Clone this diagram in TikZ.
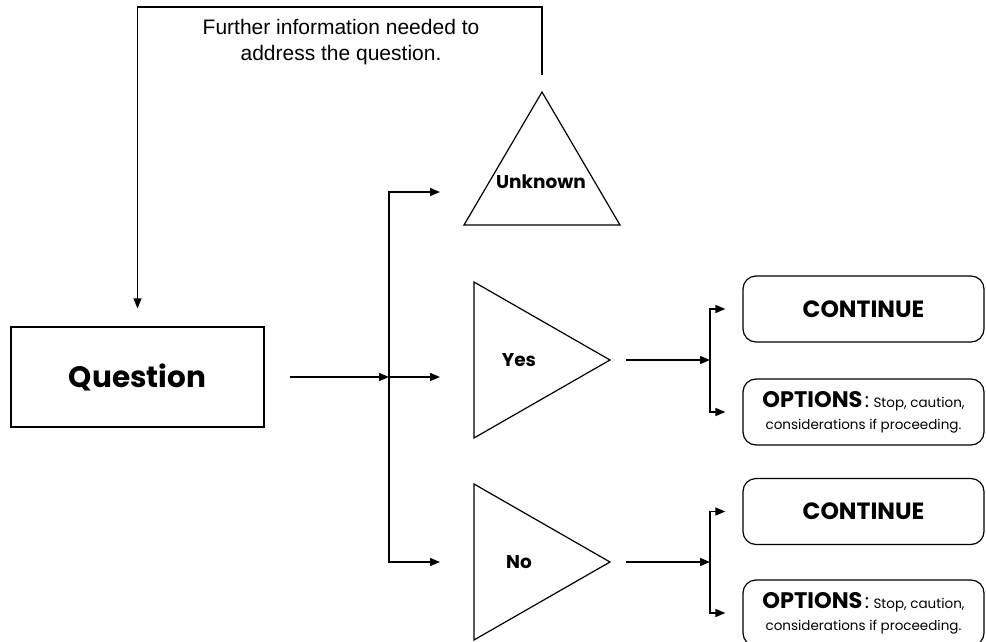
\documentclass[tikz,border=0pt]{standalone}
\usepackage{fontspec}
\setmainfont{Liberation Sans}
\newfontfamily\comicfont{Poppins}
\usetikzlibrary{arrows.meta,calc}

\newcommand{\optword}{{\fontsize{22.5}{24}\selectfont\bfseries OPTIONS}\,{\fontsize{20}{24}\selectfont :}\,\,}
\tikzset{
  box/.style={draw, line width=1.2pt, minimum width=253pt, minimum height=100pt},
  outcome/.style={draw, rounded corners=13pt, line width=1.2pt, minimum width=241pt,
    minimum height=66pt, align=center, inner sep=2pt,
    font=\comicfont\fontsize{13.5}{22}\selectfont},
  tri/.style={draw, line width=1.2pt, line join=miter},
  trilabel/.style={font=\comicfont\bfseries\fontsize{18.5}{20}\selectfont, inner sep=0pt},
  bigword/.style={font=\comicfont\bfseries\fontsize{23.5}{26}\selectfont},
}

\begin{document}
\begin{tikzpicture}[x=1pt, y=-1pt, > = {Triangle[length=10pt,width=8pt]}, line width=1.3pt]
    \useasboundingbox (0,0) rectangle (986,642);
    \node[box, font=\comicfont\bfseries\fontsize{29.5}{32}\selectfont] (question) at (137.5,377) {Question};
    \draw[tri] (464,225) coordinate (unkBL) -- (542,92) coordinate (unkTop) -- (620,225) -- cycle;
    \draw[tri] (474,282) -- (610,360) coordinate (yesTip) -- (474,438) -- cycle;
    \draw[tri] (474,484) -- (610,562) coordinate (noTip) -- (474,640) -- cycle;
    \node[trilabel] (unknown) at (541,182) {Unknown};
    \node[trilabel] (yes) at (519,360) {Yes};
    \node[trilabel] (no) at (519,562) {No};
    \node[align=center, font=\fontsize{21}{26}\selectfont] (note) at (341,42) {Further information needed to\\address the question.};
    \node[outcome, bigword] (yesCont) at (863.5,309) {CONTINUE};
    \node[outcome] (yesOpt) at (863.5,412) {\optword Stop, caution,\\considerations if proceeding.};
    \node[outcome, bigword] (noCont) at (863.5,511.5) {CONTINUE};
    \node[outcome] (noOpt) at (863.5,613) {\optword Stop, caution,\\considerations if proceeding.};
    \coordinate (hub) at (389,377);
    \coordinate (yesFork) at (710,360);
    \coordinate (noFork) at (710,562);
    \draw[->] ($(question.east)+(25,0)$) -- (hub);
    \draw[->] (hub) -- (440,377);
    \draw[->] (hub) |- (440,192);
    \draw[->] (hub) |- (440,562);
    \draw[->] ($(unkTop)+(0,-17)$) |- (137.5,7) -- ($(question.north)+(0,-18)$);
    \draw[->] ($(yesTip)+(16,0)$) -- (yesFork);
    \draw[->] (yesFork) |- ($(yesCont.west)+(-17,0)$);
    \draw[->] (yesFork) |- ($(yesOpt.west)+(-17,0)$);
    \draw[->] ($(noTip)+(16,0)$) -- (noFork);
    \draw[->] (noFork) |- ($(noCont.west)+(-17,0)$);
    \draw[->] (noFork) |- ($(noOpt.west)+(-17,0)$);
\end{tikzpicture}
\end{document}
